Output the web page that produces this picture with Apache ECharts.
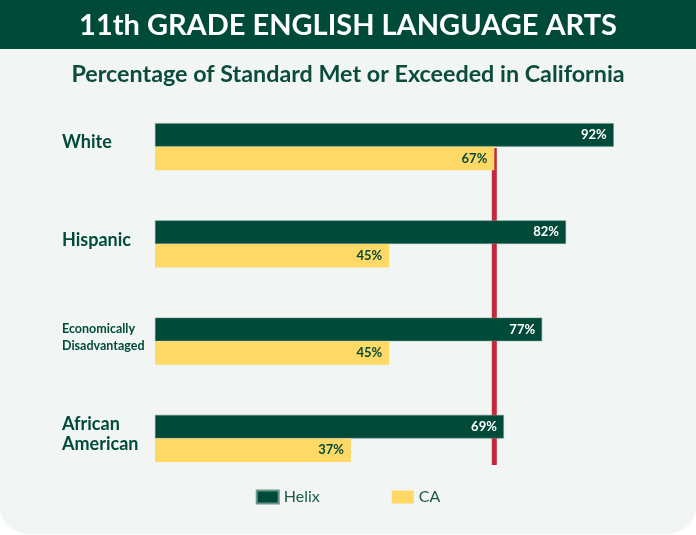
<!DOCTYPE html>
<html>
<head>
<meta charset="utf-8">
<script src="https://cdn.jsdelivr.net/npm/echarts@6/dist/echarts.min.js"></script>
<style>
  html, body { margin: 0; padding: 0; background: #ffffff; }
  #chart { width: 696px; height: 535px; }
</style>
</head>
<body>
<div id="chart"></div>
<script>
// ---- data ----
const categories = ['White', 'Hispanic', 'Economically\nDisadvantaged', 'African\nAmerican'];
const helixValues = [92, 82, 77, 69];
const caValues = [67, 45, 45, 37];
const seriesNames = ['Helix', 'CA'];
const referenceLine = 67;
const titleText = '11th GRADE ENGLISH LANGUAGE ARTS';
const subtitleText = 'Percentage of Standard Met or Exceeded in California';

// ---- styles ----
const GREEN = '#004a3a';
const YELLOW = '#ffd966';
const RED = '#c5283a';
const BG = '#f1f5f4';
const FONT = 'Lato, "Open Sans", sans-serif';
const labelStyleKeys = ['big', 'big', 'small', 'big2'];

const chart = echarts.init(document.getElementById('chart'), null, { renderer: 'canvas' });

const xAxisCommon = { type: 'value', min: -4, max: 100, show: false, splitLine: { show: false } };

chart.setOption({
  backgroundColor: 'transparent',
  animation: false,
  graphic: [
    { type: 'rect', z: -10, shape: { x: 0, y: 0, width: 696, height: 534, r: [0, 0, 28, 28] }, style: { fill: BG } },
    { type: 'rect', z: -9, shape: { x: 0, y: 0, width: 696, height: 49 }, style: { fill: GREEN } }
  ],
  title: [
    { text: titleText, left: 'center', top: 11, padding: 0,
      textStyle: { color: '#ffffff', fontFamily: FONT, fontWeight: 'bold', fontSize: 29 } },
    { text: subtitleText, left: 'center', top: 63, padding: 0,
      textStyle: { color: '#0c4c3c', fontFamily: FONT, fontWeight: 'bold', fontSize: 23.3 } }
  ],
  legend: {
    data: seriesNames,
    top: 484, left: 'center',
    itemWidth: 22, itemHeight: 13, itemGap: 72,
    icon: 'rect',
    textStyle: { color: '#1d5a4a', fontFamily: FONT, fontSize: 16, fontWeight: 'normal' }
  },
  grid: [
    { left: 155, right: 44, top: 98, height: 389, containLabel: false, outerBoundsMode: 'none' },
    { left: 155, right: 44, top: 148, bottom: 70, containLabel: false, outerBoundsMode: 'none' }
  ],
  xAxis: [
    Object.assign({ gridIndex: 0, startValue: -4 }, xAxisCommon),
    Object.assign({ gridIndex: 1 }, xAxisCommon)
  ],
  yAxis: [
    {
      gridIndex: 0, type: 'category', data: categories, inverse: true,
      axisLine: { show: false }, axisTick: { show: false }, splitLine: { show: false },
      axisLabel: {
        align: 'left', margin: 93, padding: [0, 0, 8, 0],
        formatter: (v, i) => '{' + labelStyleKeys[i] + '|' + v + '}',
        rich: {
          big: { fontFamily: FONT, fontWeight: 'bold', fontSize: 18, color: GREEN },
          small: { fontFamily: FONT, fontWeight: 'bold', fontSize: 12.5, lineHeight: 17, color: GREEN },
          big2: { fontFamily: FONT, fontWeight: 'bold', fontSize: 18, lineHeight: 20, color: GREEN }
        }
      }
    },
    { gridIndex: 1, type: 'value', min: 0, max: 1, show: false, splitLine: { show: false } }
  ],
  series: [
    {
      name: seriesNames[0], type: 'bar', xAxisIndex: 0, yAxisIndex: 0, z: 3,
      data: helixValues, barWidth: 23.5, barGap: '0%',
      itemStyle: { color: GREEN, borderColor: '#6b9488', borderWidth: 0.5 },
      label: { show: true, position: 'insideRight', distance: 7, formatter: '{c}%',
        color: '#ffffff', fontFamily: FONT, fontWeight: 'bold', fontSize: 13 }
    },
    {
      name: seriesNames[1], type: 'bar', xAxisIndex: 0, yAxisIndex: 0, z: 3,
      data: caValues, barWidth: 23.5, barGap: '0%',
      itemStyle: { color: YELLOW },
      label: { show: true, position: 'insideRight', distance: 7, formatter: '{c}%',
        color: GREEN, fontFamily: FONT, fontWeight: 'bold', fontSize: 13 }
    },
    {
      name: 'reference', type: 'line', xAxisIndex: 1, yAxisIndex: 1, z: 1,
      data: [[referenceLine, 0], [referenceLine, 1]],
      symbol: 'none', silent: true,
      lineStyle: { color: RED, width: 5, cap: 'butt' }
    }
  ]
});
</script>
</body>
</html>
